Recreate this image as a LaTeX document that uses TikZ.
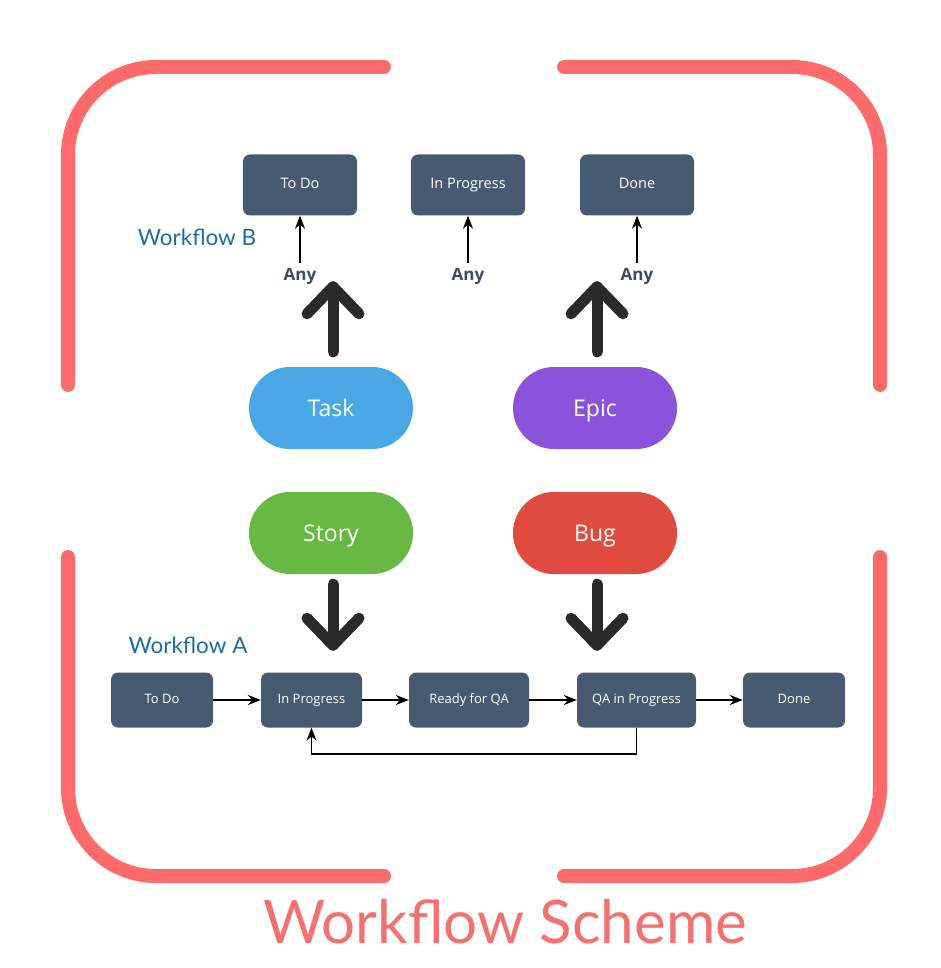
\documentclass[tikz,border=0pt]{standalone}
\usepackage{fontspec}
\setmainfont{Open Sans}
\newfontfamily\latofont{Lato}
\usetikzlibrary{arrows.meta,calc}
\definecolor{slate}{HTML}{475A72}
\definecolor{bracketred}{HTML}{FF6B6B}
\definecolor{titlered}{HTML}{F57070}
\definecolor{taskblue}{HTML}{4AA9E4}
\definecolor{epicpurple}{HTML}{8B52DC}
\definecolor{storygreen}{HTML}{67B944}
\definecolor{bugred}{HTML}{E04B40}
\definecolor{wfblue}{HTML}{1F6BA5}
\definecolor{anygray}{HTML}{3E4C5E}
\definecolor{bigdark}{HTML}{2A2A2A}
\tikzset{
  statebox/.style={rectangle, rounded corners=7pt, fill=slate, text=white,
    font=\fontsize{13}{15}\selectfont, minimum height=55pt, inner sep=0pt,
    text height=9.5pt, text depth=3pt},
  topbox/.style={statebox, minimum width=114pt, minimum height=61pt,
    font=\fontsize{14.5}{16}\selectfont, text height=10.5pt, text depth=2.5pt},
  pill/.style={rectangle, rounded corners=40.9pt, minimum width=164pt,
    minimum height=82pt, text=white, font=\fontsize{23}{26}\selectfont, inner sep=0pt,
    text height=20pt, text depth=3pt},
  anylabel/.style={text=anygray, font=\bfseries\fontsize{17}{19}\selectfont, inner sep=0pt},
  wflabel/.style={text=wfblue, font=\latofont\fontsize{22.5}{25}\selectfont, inner sep=0pt},
  thinarrow/.style={draw=black, line width=1.6pt, -{Stealth[length=13pt,width=10pt]}},
  bigarrow/.style={draw=bigdark, line width=11pt, line cap=round, line join=round},
  bracket/.style={draw=bracketred, line width=14pt, line cap=round, rounded corners=88pt}
}
\begin{document}
\begin{tikzpicture}[x=1pt,y=-1pt]
\useasboundingbox (0,0) rectangle (940,968);
% frame brackets
\draw[bracket] (68,385) -- (68,67) -- (384,67);
\draw[bracket] (564,67) -- (880,67) -- (880,385);
\draw[bracket] (68,557) -- (68,876) -- (384,876);
\draw[bracket] (564,876) -- (880,876) -- (880,557);
% title
\node[text=titlered, font=\latofont\fontsize{60}{66}\selectfont, inner sep=0pt] (title) at (505,922) {Workflow Scheme};
% Workflow B
\node[topbox] (btodo) at (300,185) {To Do};
\node[topbox] (bip) at (468,185) {In Progress};
\node[topbox] (bdone) at (637,185) {Done};
\node[wflabel] (wfb) at (197,237) {Workflow B};
\node[anylabel] (any1) at (300,276) {Any};
\node[anylabel] (any2) at (468,276) {Any};
\node[anylabel] (any3) at (637,276) {Any};
\draw[thinarrow] (any1.north) ++(0,-5) coordinate (a1s) -- (btodo.south);
\draw[thinarrow] (any2.north) ++(0,-5) coordinate (a2s) -- (bip.south);
\draw[thinarrow] (any3.north) ++(0,-5) coordinate (a3s) -- (bdone.south);
% pills
\node[pill, fill=taskblue] (task) at (331,408) {Task};
\node[pill, fill=epicpurple] (epic) at (595,408) {Epic};
\node[pill, fill=storygreen] (story) at (331,533) {Story};
\node[pill, fill=bugred] (bug) at (595,533) {Bug};
% big arrows up
\coordinate (tt) at ($(task.north)+(2,-80)$);
\draw[bigarrow] ($(task.north)+(2,-15)$) -- (tt);
\draw[bigarrow] ($(tt)+(-26,27)$) -- (tt) -- ($(tt)+(26,27)$);
\coordinate (et) at ($(epic.north)+(2,-80)$);
\draw[bigarrow] ($(epic.north)+(2,-15)$) -- (et);
\draw[bigarrow] ($(et)+(-26,27)$) -- (et) -- ($(et)+(26,27)$);
% big arrows down
\coordinate (st) at ($(story.south)+(2,71)$);
\draw[bigarrow] ($(story.south)+(2,10)$) -- (st);
\draw[bigarrow] ($(st)+(-26,-27)$) -- (st) -- ($(st)+(26,-27)$);
\coordinate (bt) at ($(bug.south)+(2,71)$);
\draw[bigarrow] ($(bug.south)+(2,10)$) -- (bt);
\draw[bigarrow] ($(bt)+(-26,-27)$) -- (bt) -- ($(bt)+(26,-27)$);
% Workflow A
\node[wflabel] (wfa) at (188,645) {Workflow A};
\node[statebox, minimum width=102pt] (atodo) at (162,700) {To Do};
\node[statebox, minimum width=101pt] (aip) at (311.5,700) {In Progress};
\node[statebox, minimum width=120pt] (arqa) at (469,700) {Ready for QA};
\node[statebox, minimum width=119pt] (aqa) at (636.5,700) {QA in Progress};
\node[statebox, minimum width=102pt] (adone) at (794,700) {Done};
\draw[thinarrow] (atodo) -- (aip);
\draw[thinarrow] (aip) -- (arqa);
\draw[thinarrow] (arqa) -- (aqa);
\draw[thinarrow] (aqa) -- (adone);
\draw[thinarrow] (aqa.south) -- ++(0,26) -| (aip.south);
\end{tikzpicture}
\end{document}
